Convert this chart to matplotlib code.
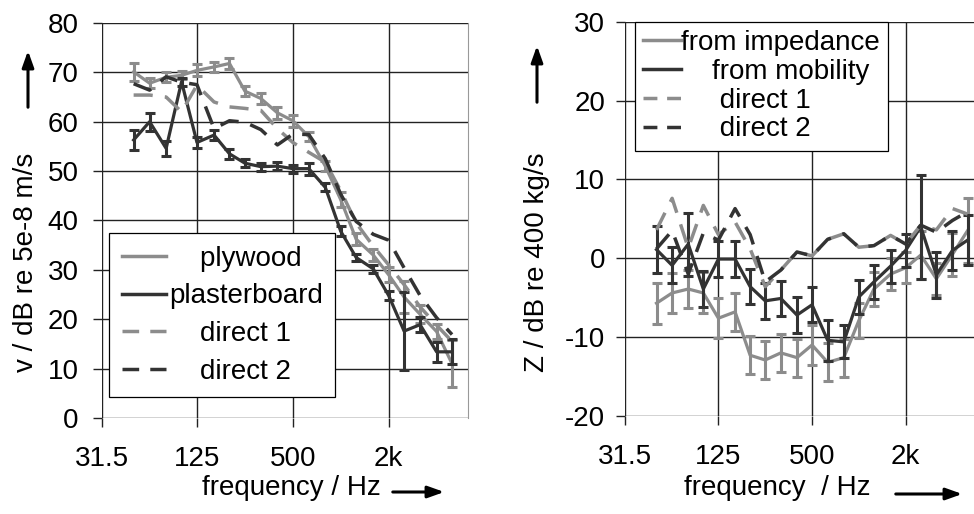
"""
Mobility / impedance comparison, plywood vs plasterboard (third-octave bands).
Output: out.png (974x514)
"""
import numpy as np
import matplotlib
matplotlib.use("Agg")
import matplotlib.pyplot as plt
from matplotlib.lines import Line2D

plt.rcParams["font.family"] = ["Liberation Sans", "DejaVu Sans"]
plt.rcParams["axes.unicode_minus"] = False

# ─────────────────────────────────────────────────────────────────────────────
# data (third-octave band centres, 50 Hz .. 5 kHz)
# ─────────────────────────────────────────────────────────────────────────────
freqs = [50, 63, 80, 100, 125, 160, 200, 250, 315, 400, 500, 630, 800,
         1000, 1250, 1600, 2000, 2500, 3150, 4000, 5000]

tick_freqs  = [31.5, 125, 500, 2000]
tick_labels = ["31.5", "125", "500", "2k"]

# left panel: velocity level
plywood     = [70.1, 67.8, 69.0, 69.4, 70.4, 71.1, 71.8, 66.2, 64.7, 61.8, 60.2,
               57.0, 51.0, 44.2, 36.2, 33.0, 29.0, 24.5, 21.0, 17.5, 11.0]
plywood_err = [1.8, 1.0, 1.0, 0.8, 1.2, 1.0, 1.2, 1.0, 1.2, 1.2, 1.2,
               1.0, 1.0, 1.5, 1.2, 1.2, 1.5, 3.2, 1.8, 1.6, 4.8]
plaster     = [56.3, 60.0, 54.6, 68.1, 55.8, 57.3, 53.5, 51.6, 50.9, 51.0, 50.5,
               50.5, 46.7, 37.8, 32.5, 30.2, 24.8, 17.6, 18.9, 13.4, 13.4]
plaster_err = [2.0, 1.8, 1.5, 0.8, 1.2, 1.0, 1.0, 0.8, 0.8, 0.8, 0.8,
               1.2, 0.8, 1.0, 0.8, 0.8, 1.0, 7.9, 1.5, 2.0, 2.5]
direct1_v   = [65.4, 65.4, 65.0, 62.0, 67.4, 64.0, 63.0, 62.7, 62.3, 58.6, 55.8,
               53.8, 51.8, 46.0, 39.5, 34.8, 31.0, 27.0, 22.5, 18.8, 15.5]
direct2_v   = [67.7, 66.4, 69.1, 68.0, 67.5, 58.6, 60.2, 59.9, 58.4, 55.3, 57.5,
               57.4, 52.5, 45.3, 39.8, 37.2, 36.0, 30.4, 24.8, 20.3, 16.9]

# right panel: impedance level
imped       = [-5.7, -4.4, -3.9, -4.4, -7.6, -6.8, -12.3, -12.9, -12.0, -12.6, -11.0,
               -13.2, -12.6, -7.9, -3.9, -2.0, -1.2, 0.4, -2.6, 0.5, 3.5]
imped_err   = [2.6, 2.5, 2.4, 2.6, 2.5, 2.4, 2.4, 2.4, 2.4, 2.4, 2.5,
               2.4, 2.4, 2.2, 2.1, 2.0, 2.0, 3.0, 2.0, 2.7, 4.1]
mobility    = [1.1, -0.9, 1.8, -3.9, -0.1, -0.1, -3.6, -5.4, -5.1, -7.2, -5.9,
               -10.4, -10.6, -4.9, -3.0, -1.0, 1.0, 4.0, -2.1, 1.0, 2.3]
mobility_err = [3.0, 2.3, 4.0, 2.3, 2.3, 2.3, 2.2, 2.3, 2.2, 2.3, 2.2,
                2.6, 2.1, 2.2, 2.2, 2.1, 2.1, 6.6, 2.9, 2.5, 3.2]
direct1_z   = [3.6, 7.6, 1.3, 6.7, 3.0, 4.6, 1.2, -3.6, -1.5, 0.8, 0.3,
               2.4, 3.1, 1.4, 1.6, 2.9, 1.8, 4.2, 3.6, 6.3, 5.6]
direct2_z   = [1.2, 3.5, -2.0, 3.2, 2.3, 6.3, 3.0, -3.0, -1.5, 0.8, 0.3,
               2.4, 3.1, 1.4, 1.6, 2.9, 1.8, 4.2, 3.3, 4.8, 5.9]

LIGHT = "#8c8c8c"
DARK  = "#333333"
GRID  = "#222222"
FS    = 20
DASH  = (0, (5.5, 3.5))


# ─────────────────────────────────────────────────────────────────────────────
# helpers
# ─────────────────────────────────────────────────────────────────────────────
def style_axes(ax, ylim, yticks, xmax, ypad):
    ax.set_xscale("log")
    ax.set_xlim(31.5, xmax)
    ax.set_ylim(*ylim)
    ax.set_xticks(tick_freqs)
    ax.set_xticklabels(tick_labels)
    ax.xaxis.set_minor_locator(matplotlib.ticker.NullLocator())
    ax.set_yticks(yticks)
    ax.grid(True, color=GRID, lw=1.0)
    ax.set_axisbelow(True)
    for s in ("top", "left", "bottom"):
        ax.spines[s].set_visible(False)
    ax.spines["right"].set_color("#999999")
    ax.tick_params(axis="y", length=6.5, width=1.0, color=GRID, pad=ypad, labelsize=FS)
    ax.tick_params(axis="x", length=6.5, width=1.0, color=GRID, pad=14, labelsize=FS)


def draw_series(ax, s1, e1, s2, e2, d1, d2):
    ax.errorbar(freqs, s1, yerr=e1, color=LIGHT, lw=2.3, elinewidth=2.2,
                capsize=3.4, capthick=2.2, zorder=3)
    ax.errorbar(freqs, s2, yerr=e2, color=DARK, lw=2.3, elinewidth=2.2,
                capsize=3.4, capthick=2.2, zorder=4)
    ax.plot(freqs, d1, color=LIGHT, lw=2.5, ls=DASH, zorder=5)
    ax.plot(freqs, d2, color=DARK, lw=2.5, ls=DASH, zorder=6)


def legend_handles(dash):
    return [
        Line2D([], [], color=LIGHT, lw=2.5),
        Line2D([], [], color=DARK, lw=2.5),
        Line2D([], [], color=LIGHT, lw=2.5, ls=dash),
        Line2D([], [], color=DARK, lw=2.5, ls=dash),
    ]


def arrow(fig, p0, p1):
    W, H = 974.0, 514.0
    fig.add_artist(matplotlib.patches.FancyArrowPatch(
        (p0[0] / W, 1 - p0[1] / H), (p1[0] / W, 1 - p1[1] / H),
        transform=fig.transFigure, arrowstyle="-|>,head_length=0.7,head_width=0.25",
        mutation_scale=14, lw=2.2, color="black"))


# ─────────────────────────────────────────────────────────────────────────────
# figure
# ─────────────────────────────────────────────────────────────────────────────
fig = plt.figure(figsize=(9.74, 5.14), dpi=100)
ax1 = fig.add_axes([0.1044, 0.1868, 0.3761, 0.7685])
ax2 = fig.add_axes([0.6420, 0.1907, 0.3580, 0.7671])

style_axes(ax1, (0, 80), np.arange(0, 81, 10), 6300, 10)
style_axes(ax2, (-20, 30), np.arange(-20, 31, 10), 5500, 8)
ax2.spines["right"].set_visible(False)

draw_series(ax1, plywood, plywood_err, plaster, plaster_err, direct1_v, direct2_v)
draw_series(ax2, imped, imped_err, mobility, mobility_err, direct1_z, direct2_z)

# dash patterns sized so each legend handle shows exactly two dashes
leg1 = ax1.legend(legend_handles((0, (4.8, 3.2))),
                  ["    plywood", "plasterboard", "    direct 1", "    direct 2"],
                  loc="upper left", bbox_to_anchor=(0.02, 0.468), fontsize=FS,
                  frameon=True, fancybox=False, framealpha=1, edgecolor="black",
                  handlelength=1.6, handletextpad=0.1, labelspacing=0.42,
                  borderpad=0.45, borderaxespad=0)
leg1.get_frame().set_linewidth(0.9)
leg1.set_zorder(10)

leg2 = ax2.legend(legend_handles((0, (4.0, 2.8))),
                  ["from impedance", "    from mobility", "     direct 1", "     direct 2"],
                  loc="upper left", bbox_to_anchor=(0.028, 1.0), fontsize=FS,
                  frameon=True, fancybox=False, framealpha=1, edgecolor="black",
                  handlelength=1.35, handletextpad=0.0, labelspacing=0.1,
                  borderpad=0.3, borderaxespad=0)
leg2.get_frame().set_linewidth(0.9)
leg2.set_zorder(10)

# axis titles with arrows
fig.text(26 / 974, 1 - 262 / 514, "v / dB re 5e-8 m/s", rotation=90,
         ha="center", va="center", fontsize=FS)
arrow(fig, (28, 110), (28, 48))
fig.text(291 / 974, 1 - 488 / 514, "frequency / Hz", ha="center", va="center", fontsize=FS)
arrow(fig, (390, 492), (447, 492))

fig.text(537 / 974, 1 - 262 / 514, "Z / dB re 400 kg/s", rotation=90,
         ha="center", va="center", fontsize=FS)
arrow(fig, (537, 105), (537, 43))
fig.text(777 / 974, 1 - 488 / 514, "frequency  / Hz", ha="center", va="center", fontsize=FS)
arrow(fig, (893, 494), (965, 494))

fig.savefig("out.png", dpi=100, facecolor="white")
plt.close(fig)
